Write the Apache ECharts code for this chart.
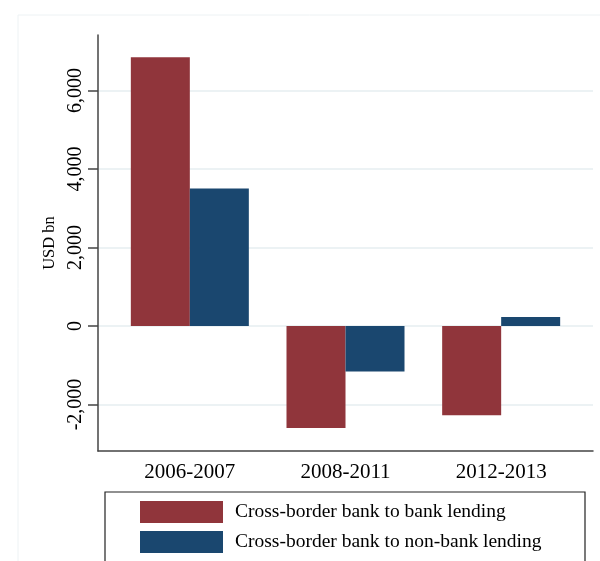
<!DOCTYPE html>
<html>
<head>
<meta charset="utf-8">
<script src="https://cdn.jsdelivr.net/npm/echarts@6/dist/echarts.min.js"></script>
<style>
  html, body { margin: 0; padding: 0; background: #fff; }
  #chart { width: 600px; height: 561px; }
</style>
</head>
<body>
<div id="chart"></div>
<script>
// Cross-border lending flows by period (USD bn)
const periods = ['2006-2007', '2008-2011', '2012-2013'];
const bankToBank = [6850, -2600, -2275];
const bankToNonBank = [3500, -1160, 230];
const yTicks = [-2000, 0, 2000, 4000, 6000];
const seriesNames = ['Cross-border bank to bank lending', 'Cross-border bank to non-bank lending'];

const Y_MIN = -3185;
const Y_MAX = 7414;
const RED = '#90353B';
const NAVY = '#1A476F';
const FONT = '"Liberation Serif", "Times New Roman", serif';

const fmt = v => v.toLocaleString('en-US');

const chart = echarts.init(document.getElementById('chart'), null, { renderer: 'canvas' });

chart.setOption({
  animation: false,
  backgroundColor: '#fff',
  textStyle: { fontFamily: FONT, color: '#000' },
  graphic: [
    {
      type: 'rect',
      shape: { x: 18, y: 15, width: 620, height: 620 },
      style: { fill: 'none', stroke: '#edf2f4', lineWidth: 1 },
      silent: true, z: -10
    },
    {
      type: 'rect',
      shape: { x: 105, y: 492, width: 480, height: 100 },
      style: { fill: 'none', stroke: '#222', lineWidth: 1.2 },
      silent: true
    }
  ],
  grid: [
    // axes frame and gridlines
    { left: 98, right: 7, top: 35, bottom: 110 },
    // bar area
    { left: 112, right: 21, top: 35, bottom: 110 }
  ],
  xAxis: [
    {
      gridIndex: 0, type: 'value', min: 0, max: 1, position: 'bottom',
      axisLine: { show: true, onZero: false, lineStyle: { color: '#444', width: 1.5 } },
      axisTick: { show: false }, axisLabel: { show: false }, splitLine: { show: false }
    },
    {
      gridIndex: 1, type: 'category', data: periods,
      axisLine: { show: false }, axisTick: { show: false },
      axisLabel: { fontSize: 21, margin: 11, color: '#000', fontFamily: FONT }
    }
  ],
  yAxis: [
    {
      gridIndex: 0, type: 'value', min: Y_MIN, max: Y_MAX,
      name: 'USD bn', nameLocation: 'middle', nameRotate: 90, nameGap: 39,
      nameTextStyle: { fontSize: 16.5, color: '#000', fontFamily: FONT },
      axisLine: { show: true, lineStyle: { color: '#444', width: 1.5 } },
      axisTick: { show: true, length: 10, customValues: yTicks, lineStyle: { color: '#444', width: 1.5 } },
      axisLabel: {
        customValues: yTicks, rotate: 90, fontSize: 20, margin: 12, color: '#000',
        fontFamily: FONT, formatter: v => fmt(v)
      },
      splitLine: { show: false }
    },
    { gridIndex: 1, type: 'value', min: Y_MIN, max: Y_MAX, show: false }
  ],
  legend: {
    orient: 'vertical', left: 140, top: 501,
    itemWidth: 83, itemHeight: 22, itemGap: 8, padding: 0,
    icon: 'rect',
    textStyle: { fontSize: 19.5, color: '#000', fontFamily: FONT, padding: [0, 0, 0, 7] },
    data: seriesNames
  },
  series: [
    {
      // horizontal gridlines at the labelled ticks, kept behind the bars
      type: 'line', xAxisIndex: 0, yAxisIndex: 0, data: [], z: 0, silent: true,
      markLine: {
        z: 0, silent: true, symbol: 'none', label: { show: false },
        lineStyle: { color: '#e6eef1', width: 1.5, type: 'solid' },
        data: yTicks.map(v => ({ yAxis: v }))
      }
    },
    {
      name: seriesNames[0], type: 'bar', xAxisIndex: 1, yAxisIndex: 1,
      data: bankToBank, barWidth: 59, barGap: '0%', z: 3,
      itemStyle: { color: RED }
    },
    {
      name: seriesNames[1], type: 'bar', xAxisIndex: 1, yAxisIndex: 1,
      data: bankToNonBank, barWidth: 59, barGap: '0%', z: 3,
      itemStyle: { color: NAVY }
    }
  ]
});
</script>
</body>
</html>
